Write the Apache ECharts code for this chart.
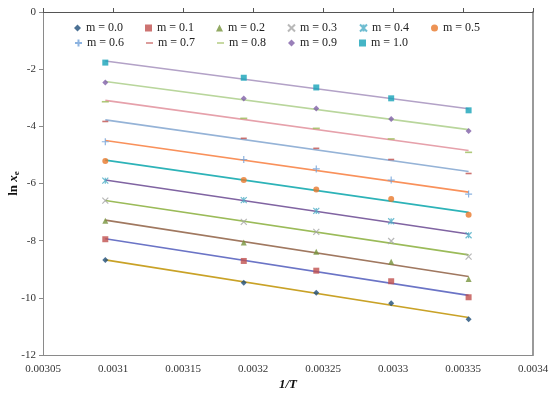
<!DOCTYPE html>
<html><head><meta charset="utf-8">
<script src="https://cdn.jsdelivr.net/npm/echarts@6/dist/echarts.min.js"></script>
<style>html,body{margin:0;padding:0;background:#fff}#c{width:550px;height:394px}</style>
</head><body><div id="c"></div>
<script>
const invT = [0.0030945, 0.0031934, 0.0032452, 0.0032987, 0.0033540];
const seriesNames = ['m = 0.0','m = 0.1','m = 0.2','m = 0.3','m = 0.4','m = 0.5','m = 0.6','m = 0.7','m = 0.8','m = 0.9','m = 1.0'];
const m00 = [-8.68, -9.47, -9.82, -10.19, -10.75];
const m01 = [-7.95, -8.71, -9.05, -9.42, -9.98];
const m02 = [-7.30, -8.06, -8.39, -8.74, -9.34];
const m03 = [-6.60, -7.34, -7.69, -8.01, -8.56];
const m04 = [-5.90, -6.58, -6.96, -7.32, -7.81];
const m05 = [-5.21, -5.88, -6.21, -6.54, -7.09];
const m06 = [-4.54, -5.16, -5.49, -5.88, -6.37];
const m07 = [-3.83, -4.42, -4.77, -5.16, -5.65];
const m08 = [-3.14, -3.72, -4.07, -4.44, -4.91];
const m09 = [-2.47, -3.03, -3.38, -3.74, -4.16];
const m10 = [-1.77, -2.30, -2.64, -3.02, -3.44];
const allValues = [m00,m01,m02,m03,m04,m05,m06,m07,m08,m09,m10];
const yTicks = [0,-2,-4,-6,-8,-10,-12];

const X = 'path://M0,0L10,10M10,0L0,10';
const AST = 'path://M0,0L10,10M10,0L0,10M5,0L5,10';
const PLUS = 'path://M5,0L5,10M0,5L10,5';
const DASH = 'path://M0,0H10V2H0Z';
const markerSym = ['diamond','rect','triangle',X,AST,'circle',PLUS,DASH,DASH,'diamond','rect'];
const markerSize = [6,6,6,6,6,6,7,[6,1.6],[7,1.6],6,6];
const markerCol = ['#1F4E79','#C0504D','#77933C','#A6A6A6','#4BACC6','#E8782A','#6FA0D8','#C0504D','#9BBB59','#7F5FA8','#17A2B8'];
const stroked = [false,false,false,true,true,false,true,false,false,false,false];
const lineCol = ['#C9A227','#6B74C6','#A07860','#9BBB59','#8064A2','#2DB3B8','#F9915B','#95B3D7','#E6A1AB','#B9D69C','#B3A2C7'];

function fit(xs, ys){
  const n = xs.length;
  let sx=0, sy=0, sxx=0, sxy=0;
  for (let i=0;i<n;i++){sx+=xs[i];sy+=ys[i];sxx+=xs[i]*xs[i];sxy+=xs[i]*ys[i];}
  const b = (n*sxy - sx*sy)/(n*sxx - sx*sx);
  const a = (sy - b*sx)/n;
  return [[xs[0], a+b*xs[0]], [xs[n-1], a+b*xs[n-1]]];
}

const series = [];
allValues.forEach((vals, i) => {
  series.push({
    name: 'fit' + i, type: 'line', silent: true, showSymbol: false,
    data: fit(invT, vals), lineStyle: {color: lineCol[i], width: 1.6},
    itemStyle: {color: lineCol[i]}, z: 2
  });
});
allValues.forEach((vals, i) => {
  const st = stroked[i]
    ? {color: 'rgba(0,0,0,0)', borderColor: markerCol[i], borderWidth: 1.2}
    : {color: markerCol[i]};
  series.push({
    name: seriesNames[i], type: 'scatter', symbol: markerSym[i], symbolSize: markerSize[i],
    data: invT.map((x, k) => [x, vals[k]]), itemStyle: st, z: 5
  });
});

const legendCommon = {
  orient: 'horizontal', itemWidth: 7, itemHeight: 7, itemGap: 11, symbolKeepAspect: true,
  textStyle: {fontFamily: 'Liberation Serif', fontSize: 12, color: '#222', width: 48, lineHeight: 12},
  selectedMode: false
};
const fmtX = v => String(parseFloat(v.toFixed(6)));

const chart = echarts.init(document.getElementById('c'), null, {renderer: 'canvas'});
chart.setOption({
  animation: false,
  backgroundColor: '#fff',
  legend: [
    Object.assign({}, legendCommon, {left: 69, top: 17, data: seriesNames.slice(0,6)}),
    Object.assign({}, legendCommon, {left: 69, top: 32, data: seriesNames.slice(6)})
  ],
  grid: {left: 43, right: 17, top: 12, bottom: 39, containLabel: false, outerBoundsMode: 'none'},
  xAxis: [
    {type: 'value', position: 'bottom', min: 0.00305, max: 0.0034, interval: 0.00005,
     axisLine: {show: true, onZero: false, lineStyle: {color: '#8a8a8a', width: 1}},
     axisTick: {show: false}, splitLine: {show: false},
     axisLabel: {formatter: fmtX, fontFamily: 'Liberation Serif', fontSize: 11, color: '#333', margin: 9},
     name: '1/T', nameLocation: 'middle', nameGap: 23, nameMoveOverlap: false,
     nameTextStyle: {fontFamily: 'Liberation Serif', fontSize: 13, fontWeight: 'bold', fontStyle: 'italic', color: '#111'}},
    {type: 'value', position: 'top', min: 0.00305, max: 0.0034, interval: 0.00005,
     axisLine: {show: true, onZero: false, lineStyle: {color: '#555', width: 1.2}},
     axisTick: {show: true, inside: false, length: 4, lineStyle: {color: '#555'}},
     axisLabel: {show: false}, splitLine: {show: false}}
  ],
  yAxis: [
    {type: 'value', position: 'left', min: -12, max: 0, interval: 2,
     axisLine: {show: true, onZero: false, lineStyle: {color: '#8a8a8a'}},
     axisTick: {show: true, length: 4, lineStyle: {color: '#8a8a8a'}},
     splitLine: {show: false},
     axisLabel: {fontFamily: 'Liberation Serif', fontSize: 11, color: '#333', margin: 7},
     name: '{b|ln }{bi|x}{sub|e}', nameLocation: 'middle', nameGap: 22, nameRotate: 90, nameMoveOverlap: false,
     nameTextStyle: {rich: {
       b: {fontFamily: 'Liberation Serif', fontSize: 13, fontWeight: 'bold', color: '#111'},
       bi: {fontFamily: 'Liberation Serif', fontSize: 13, fontWeight: 'bold', fontStyle: 'italic', color: '#111'},
       sub: {fontFamily: 'Liberation Serif', fontSize: 9, fontWeight: 'bold', color: '#111', padding: [6,0,0,0]}
     }}},
    {type: 'value', position: 'right', min: -12, max: 0, interval: 2,
     axisLine: {show: true, onZero: false, lineStyle: {color: '#9a9a9a', width: 2}},
     axisTick: {show: false}, axisLabel: {show: false}, splitLine: {show: false}}
  ],
  series: series
});
</script></body></html>
